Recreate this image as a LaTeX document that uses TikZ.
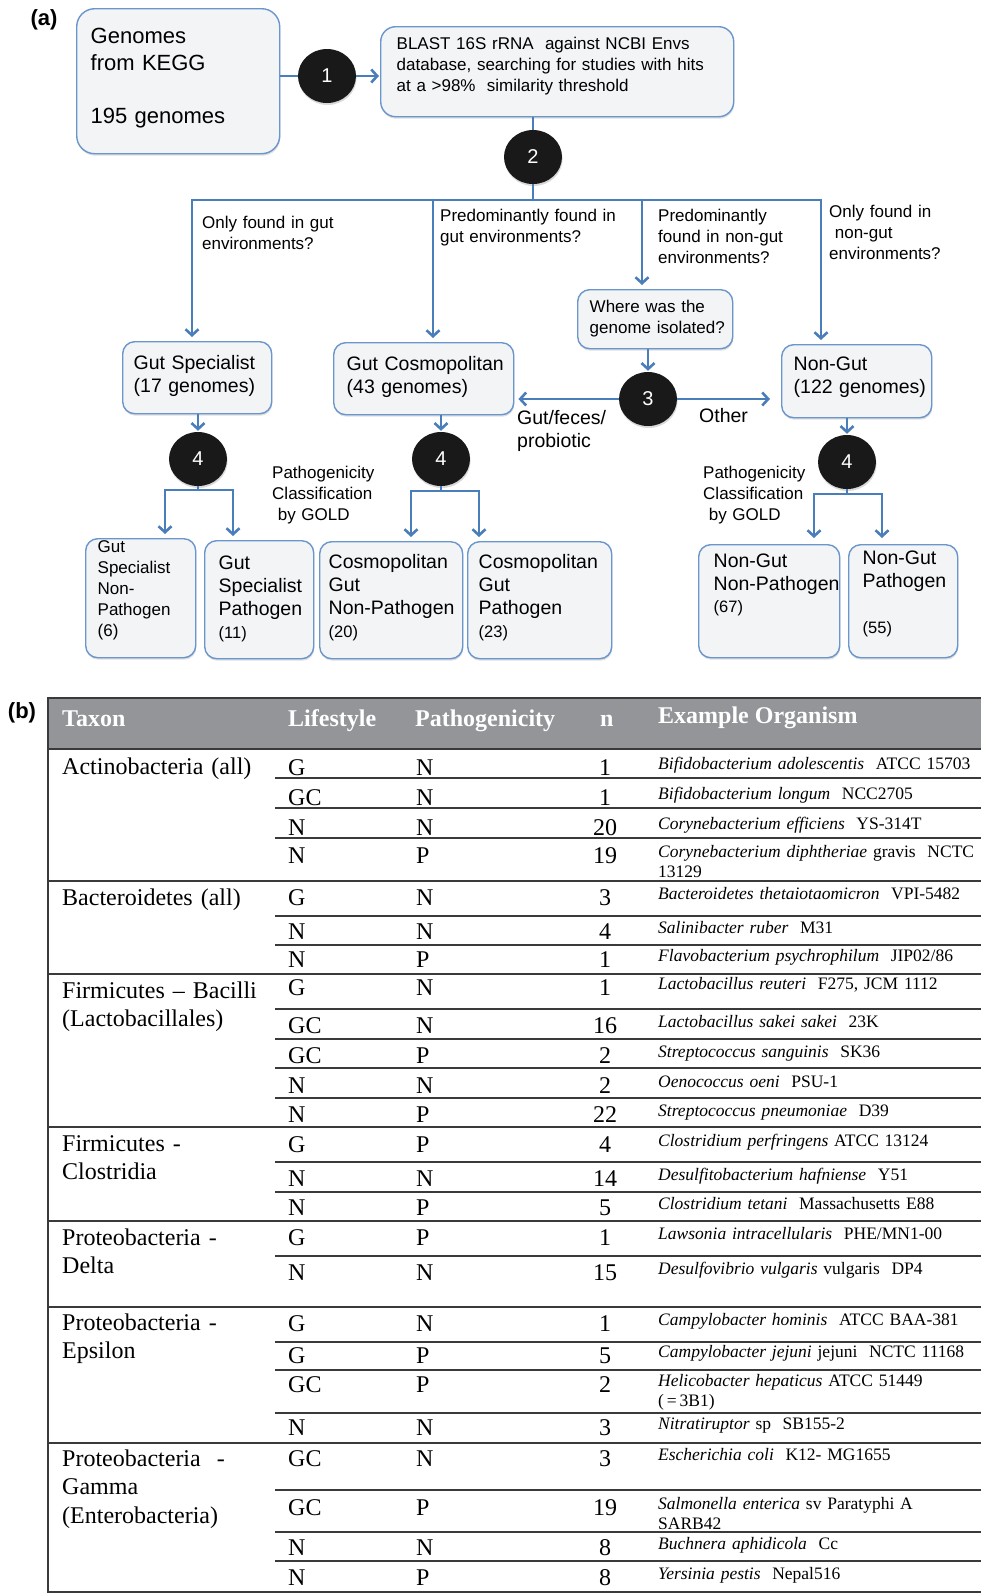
\documentclass[tikz,border=0pt]{standalone}
\usepackage{fontspec}
\newfontfamily\flowfont{Liberation Sans}
\newfontfamily\tabfont{Liberation Serif}
\usepackage{tikz}
\usetikzlibrary{positioning}
\usetikzlibrary{arrows.meta}
\usetikzlibrary{shapes.geometric}
\usetikzlibrary{shadows}
\definecolor{flowblue}{HTML}{4A7EBB}
\definecolor{boxline}{HTML}{6A96CC}
\definecolor{boxfill}{HTML}{F3F4F6}
\definecolor{headgrey}{HTML}{939598}
\definecolor{rulegrey}{HTML}{3A3A3A}
\newcommand{\bigflow}{\flowfont\fontsize{22}{27}\selectfont}
\newcommand{\boxflow}{\flowfont\fontsize{19.5}{23}\selectfont}
\newcommand{\smallflow}{\flowfont\fontsize{17}{21}\selectfont}
\newcommand{\countflow}{\fontsize{16.5}{20}\selectfont}
\newcommand{\cellfont}{\tabfont\fontsize{24}{28.5}\selectfont}
\newcommand{\orgfont}{\tabfont\fontsize{17.5}{20.5}\selectfont}
\hyphenpenalty=10000
\exhyphenpenalty=10000

\begin{document}
\begin{tikzpicture}[x=1pt, y=-1pt,
    every node/.style={inner sep=0pt},
    stepbox/.style={shape=rectangle, rounded corners=12pt, draw=boxline, line width=1.4pt,
      fill=boxfill, anchor=north west, align=left, inner ysep=0pt, font=\boxflow,
      drop shadow={opacity=0.25, shadow xshift=0.6pt, shadow yshift=-2pt}},
    stepnum/.style={ellipse, fill=black!90, minimum width=58pt, minimum height=54pt,
      text=white, font=\flowfont\fontsize{20}{24}\selectfont,
      drop shadow={opacity=0.3, shadow xshift=0.6pt, shadow yshift=-2pt}},
    question/.style={anchor=base west, align=left, text width=220pt, font=\smallflow},
    flowline/.style={draw=flowblue, line width=2.6pt},
    flowarrow/.style={flowline, -{Straight Barb[length=6pt,width=13pt]}, shorten >=4pt},
    headtxt/.style={anchor=base west, text=white, font=\tabfont\bfseries\fontsize{24}{28}\selectfont},
    cell/.style={anchor=base west, font=\cellfont},
    taxon/.style={anchor=base west, align=left, text width=210pt, font=\cellfont},
    organism/.style={anchor=base west, align=left, text width=330pt, font=\orgfont},
    rule/.style={draw=rulegrey, line width=1.3pt}]
  \useasboundingbox (0,0) rectangle (981,1593);

  % (a) flow chart
  \node[font=\flowfont\bfseries\fontsize{22}{26}\selectfont] (lbla) at (44,20) {(a)};

  \node[stepbox, rounded corners=18pt, inner xsep=14pt, text width=175pt, text height=35pt, text depth=110pt, font=\bigflow] (kegg) at (76,8) {Genomes\\from KEGG\\[26pt]195 genomes};
  \node[stepbox, rounded corners=15pt, inner xsep=16pt, text width=321pt, text height=23pt, text depth=67pt, font=\smallflow] (blast) at (380,26) {BLAST 16S rRNA~~against NCBI Envs\\database, searching for studies with hits\\at a >98\%~~similarity threshold};

  \node[stepbox, inner xsep=11pt, text width=127pt, text height=28pt, text depth=44pt] (gspec) at (122,341) {Gut~Specialist\\(17~genomes)};
  \node[stepbox, inner xsep=13pt, text width=154pt, text height=28pt, text depth=44pt] (gcos) at (333,342) {Gut~Cosmopolitan\\(43~genomes)};
  \node[stepbox, inner xsep=12pt, text width=131pt, text height=23pt, text depth=36pt, font=\smallflow] (where) at (577,289) {Where was the\\genome~isolated?};
  \node[stepbox, inner xsep=12pt, text width=126pt, text height=26pt, text depth=47pt] (nongut) at (781,344) {Non-Gut\\(122~genomes)};

  \node[stepbox, inner xsep=12pt, text width=86pt, text height=14pt, text depth=105pt, font=\smallflow] (gsnp) at (85,538) {Gut\\Specialist\\Non-\\Pathogen\\(6)};
  \node[stepbox, inner xsep=14pt, text width=81pt, text height=29pt, text depth=89pt] (gsp) at (204,540) {Gut\\Specialist\\Pathogen\\{\countflow (11)}};
  \node[stepbox, inner xsep=9pt, text width=125pt, text height=27pt, text depth=90pt] (cgnp) at (319,541) {Cosmopolitan\\Gut\\Non-Pathogen\\{\countflow (20)}};
  \node[stepbox, inner xsep=11pt, text width=122pt, text height=27pt, text depth=90pt] (cgp) at (467,541) {Cosmopolitan\\Gut\\Pathogen\\{\countflow (23)}};
  \node[stepbox, inner xsep=15pt, text width=111pt, text height=23pt, text depth=90pt] (ngnp) at (698,544) {Non-Gut\\Non-Pathogen\\[-1pt]{\countflow (67)}};
  \node[stepbox, inner xsep=14pt, text width=81pt, text height=20pt, text depth=93pt] (ngp) at (848,544) {Non-Gut\\Pathogen\\[23pt]{\countflow (55)}};

  \node[stepnum] (step1) at (327,76) {1};
  \node[stepnum] (step2) at (533,157) {2};
  \node[stepnum] (step3) at (648,399) {3};
  \node[stepnum] (step4a) at (198,459) {4};
  \node[stepnum] (step4b) at (441,459) {4};
  \node[stepnum] (step4c) at (847,462) {4};

  \coordinate (busL) at (192,200);
  \coordinate (busM) at (433,200);
  \coordinate (busN) at (642,200);
  \coordinate (busR) at (821,200);
  \coordinate (splitAl) at (165,490);
  \coordinate (splitAr) at (233,490);
  \coordinate (splitBl) at (411,491);
  \coordinate (splitBr) at (479,491);
  \coordinate (splitCl) at (814,494);
  \coordinate (splitCr) at (882,494);

  \draw[flowline] (kegg.east |- step1) -- (step1);
  \draw[flowarrow, shorten >=1pt] (step1) -- (blast.west |- step1);
  \draw[flowline] (step2 |- blast.south) -- (step2);
  \draw[flowarrow] (step2.south) |- (busL) -- (busL |- gspec.north);
  \draw[flowarrow] (step2.south) |- (busR) -- (busR |- nongut.north);
  \draw[flowarrow] (busM) -- (busM |- gcos.north);
  \draw[flowarrow] (busN) -- (busN |- where.north);

  \draw[flowarrow, shorten >=1pt] (step4a |- gspec.south) -- (step4a.north);
  \draw[flowarrow, shorten >=1pt] (step4b |- gcos.south) -- (step4b.north);
  \draw[flowarrow, shorten >=1pt] (step3 |- where.south) -- (step3.north);
  \draw[flowarrow, shorten >=1pt] (step4c |- nongut.south) -- (step4c.north);

  \draw[flowarrow] (step3) -- (gcos.east |- step3);
  \draw[flowarrow, shorten >=11pt] (step3) -- (nongut.west |- step3);

  \draw[flowarrow] (step4a.south) |- (splitAl) -- (splitAl |- gsnp.north);
  \draw[flowarrow] (step4a.south) |- (splitAr) -- (splitAr |- gsp.north);
  \draw[flowarrow] (step4b.south) |- (splitBl) -- (splitBl |- cgnp.north);
  \draw[flowarrow] (step4b.south) |- (splitBr) -- (splitBr |- cgp.north);
  \draw[flowarrow, shorten >=6pt] (step4c.south) |- (splitCl) -- (splitCl |- ngnp.north);
  \draw[flowarrow, shorten >=6pt] (step4c.south) |- (splitCr) -- (splitCr |- ngp.north);

  \node[question] (onlygut) at (202,228) {Only found in gut\\environments?};
  \node[question] (predgut) at (440,221) {Predominantly found in\\gut environments?};
  \node[question] (prednongut) at (658,221) {Predominantly\\found in non-gut\\environments?};
  \node[question, text width=140pt] (onlynongut) at (829,217) {Only found in\\\ non-gut\\environments?};
  \node[question, font=\boxflow] (gutfeces) at (517,424) {Gut/feces/\\probiotic};
  \node[question, font=\boxflow, text width=60pt] (other) at (699,422) {Other};
  \node[question, text width=120pt] (goldA) at (272,478) {Pathogenicity\\Classification\\\ by GOLD};
  \node[question, text width=100pt] (goldB) at (703,478) {Pathogenicity\\Classification\\\ by GOLD};

  % (b) table
  \node[font=\flowfont\bfseries\fontsize{22}{26}\selectfont] (lblb) at (22,713) {(b)};
  \fill[headgrey] (48,698) rectangle (981,749);
  \draw[rule, line width=2pt] (48,749) -- (981,749);
  \foreach \y in {881,974,1127,1221,1307,1443}
    \draw[rule] (48,\y) -- (981,\y);
  \foreach \y in {778,808,838,916,945,1009,1039,1068,1098,1162,1192,1256,1342,1370,1413,1490,1532,1561}
    \draw[rule] (275,\y) -- (981,\y);
  \draw[rule, line width=2.6pt] (981,698) -- (48,698) -- (48,1592) -- (981,1592);

  \node[headtxt] (hTaxon) at (62,726) {Taxon};
  \node[headtxt] (hLife) at (288,726) {Lifestyle};
  \node[headtxt] (hPath) at (415,726) {Pathogenicity};
  \node[headtxt] (hN) at (600,726) {n};
  \node[headtxt] (hOrg) at (658,723) {Example Organism};

  \node[taxon] (tx1) at (62,774) {Actinobacteria (all)};
  \node[taxon] (tx2) at (62,905) {Bacteroidetes (all)};
  \node[taxon] (tx3) at (62,998) {Firmicutes – Bacilli\\(Lactobacillales)};
  \node[taxon] (tx4) at (62,1151) {Firmicutes -\\Clostridia};
  \node[taxon] (tx5) at (62,1245) {Proteobacteria -\\Delta};
  \node[taxon] (tx6) at (62,1330) {Proteobacteria -\\Epsilon};
  \node[taxon] (tx7) at (62,1466) {Proteobacteria~~-\\Gamma\\(Enterobacteria)};

  \foreach \y/\ls/\pa/\nn/\ex [count=\i] in {
      767/G/N/1/{\textit{Bifidobacterium adolescentis}~~ATCC 15703},
      797/GC/N/1/{\textit{Bifidobacterium longum}~~NCC2705},
      827/N/N/20/{\textit{Corynebacterium efficiens}~~YS-314T},
      855/N/P/19/{\textit{Corynebacterium diphtheriae} gravis~~NCTC\\13129},
      897/G/N/3/{\textit{Bacteroidetes thetaiotaomicron}~~VPI-5482},
      931/N/N/4/{\textit{Salinibacter ruber}~~M31},
      959/N/P/1/{\textit{Flavobacterium psychrophilum}~~JIP02/86},
      987/G/N/1/{\textit{Lactobacillus reuteri}~~F275, JCM 1112},
      1025/GC/N/16/{\textit{Lactobacillus sakei sakei}~~23K},
      1055/GC/P/2/{\textit{Streptococcus sanguinis}~~SK36},
      1085/N/N/2/{\textit{Oenococcus oeni}~~PSU-1},
      1114/N/P/22/{\textit{Streptococcus pneumoniae}~~D39},
      1144/G/P/4/{\textit{Clostridium perfringens} ATCC 13124},
      1178/N/N/14/{\textit{Desulfitobacterium hafniense}~~Y51},
      1207/N/P/5/{\textit{Clostridium tetani}~~Massachusetts E88},
      1237/G/P/1/{\textit{Lawsonia intracellularis}~~PHE/MN1-00},
      1272/N/N/15/{\textit{Desulfovibrio vulgaris} vulgaris~~DP4},
      1323/G/N/1/{\textit{Campylobacter hominis}~~ATCC BAA-381},
      1355/G/P/5/{\textit{Campylobacter jejuni} jejuni~~NCTC 11168},
      1384/GC/P/2/{\textit{Helicobacter hepaticus} ATCC 51449\\(\,=\,3B1)},
      1427/N/N/3/{\textit{Nitratiruptor} sp~~SB155-2},
      1458/GC/N/3/{\textit{Escherichia coli}~~K12- MG1655},
      1507/GC/P/19/{\textit{Salmonella enterica} sv Paratyphi A\\SARB42},
      1547/N/N/8/{\textit{Buchnera aphidicola}~~Cc},
      1577/N/P/8/{\textit{Yersinia pestis}~~Nepal516}} {
    \node[cell] (ls\i) at (288,\y+8) {\ls};
    \node[cell] (pa\i) at (416,\y+8) {\pa};
    \node[cell, anchor=base] (nn\i) at (605,\y+8) {\nn};
    \node[organism] (ex\i) at (658,\y+2) {\ex};
  }
\end{tikzpicture}
\end{document}
